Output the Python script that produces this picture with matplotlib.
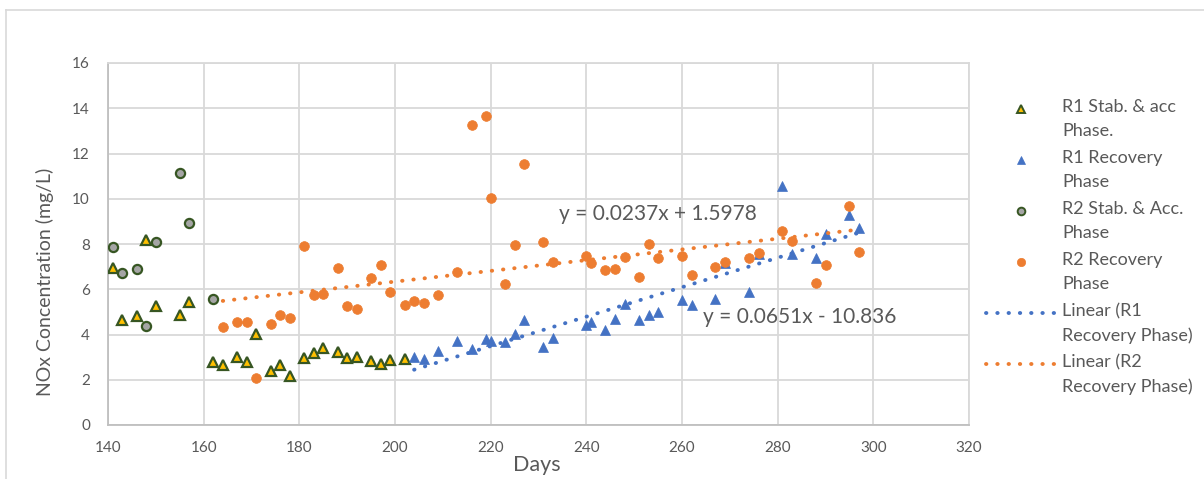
import numpy as np
import matplotlib
matplotlib.use("Agg")
import matplotlib.pyplot as plt
from matplotlib.lines import Line2D

plt.rcParams['font.family'] = ['Lato', 'DejaVu Sans']

# R1 stabilisation & acclimation phase
r1_stab_days = [141, 143, 146, 148, 150, 155, 157, 162, 164, 167, 169, 171, 174,
                176, 178, 181, 183, 185, 188, 190, 192, 195, 197, 199, 202]
r1_stab_nox = [6.95, 4.62, 4.81, 8.19, 5.24, 4.85, 5.44, 2.79, 2.65, 3.00, 2.80, 4.04, 2.40,
               2.65, 2.18, 2.95, 3.20, 3.42, 3.23, 2.94, 3.02, 2.85, 2.71, 2.86, 2.92]

# R1 recovery phase
r1_rec_days = [204, 206, 209, 213, 216, 219, 220, 223, 225, 227, 231, 233, 240, 241, 244, 246,
               248, 251, 253, 255, 260, 262, 267, 269, 274, 276, 281, 283, 288, 290, 295, 297]
r1_rec_nox = [3.02, 2.92, 3.27, 3.73, 3.38, 3.80, 3.72, 3.66, 4.03, 4.65, 3.44, 3.84, 4.42, 4.57,
              4.20, 4.68, 5.34, 4.62, 4.88, 5.01, 5.52, 5.32, 5.56, 7.15, 5.90, 7.55, 10.55, 7.57,
              7.40, 8.45, 9.29, 8.70]

# R2 stabilisation & acclimation phase
r2_stab_days = [141, 143, 146, 148, 150, 155, 157, 162]
r2_stab_nox = [7.85, 6.74, 6.89, 4.37, 8.10, 11.12, 8.95, 5.57]

# R2 recovery phase
r2_rec_days = [164, 167, 169, 171, 174, 176, 178, 181, 183, 185, 188, 190, 192, 195, 197, 199,
               202, 204, 206, 209, 213, 216, 219, 220, 223, 225, 227, 231, 233, 240, 241, 244,
               246, 248, 251, 253, 255, 260, 262, 267, 269, 274, 276, 281, 283, 288, 290, 295, 297]
r2_rec_nox = [4.35, 4.56, 4.56, 2.06, 4.45, 4.84, 4.75, 7.89, 5.75, 5.81, 6.96, 5.24, 5.12, 6.50,
              7.08, 5.86, 5.32, 5.49, 5.40, 5.75, 6.78, 13.24, 13.64, 10.05, 6.25, 7.95, 11.53,
              8.07, 7.20, 7.45, 7.15, 6.84, 6.89, 7.42, 6.55, 7.98, 7.40, 7.48, 6.62, 6.99, 7.20,
              7.39, 7.61, 8.58, 8.13, 6.28, 7.05, 9.69, 7.63]

# linear trendline coefficients (slope, intercept)
r1_fit = (0.0651, -10.836)
r2_fit = (0.0237, 1.5978)

xticks = list(range(140, 321, 20))
yticks = list(range(0, 17, 2))

txt = '#595959'
blue = '#4472C4'
orange = '#ED7D31'
dkgreen = '#375623'
yellow = '#FFC000'
grey = '#A5A5A5'
grid = '#D9D9D9'

W, H = 1204, 479
fig = plt.figure(figsize=(W / 100, H / 100), dpi=100)


def fx(x):
    return x / W


def fy(y):
    return 1 - y / H


# outer chart border
fig.add_artist(Line2D([fx(6), 1], [fy(10), fy(10)], color=grid, lw=1.2, transform=fig.transFigure))
fig.add_artist(Line2D([fx(6), fx(6)], [0, fy(10)], color=grid, lw=1.2, transform=fig.transFigure))

ax = fig.add_axes([fx(108), fy(425), fx(969) - fx(108), fy(63) - fy(425)])

ax.grid(True, color=grid, lw=1.3)
ax.set_axisbelow(True)
for s in ['top', 'right']:
    ax.spines[s].set_color(grid)
    ax.spines[s].set_linewidth(1.3)
for s in ['left', 'bottom']:
    ax.spines[s].set_color('#BFBFBF')
    ax.spines[s].set_linewidth(1.3)

ax.set_xlim(140, 320)
ax.set_ylim(0, 16)
ax.set_xticks(xticks)
ax.set_yticks(yticks)
ax.tick_params(length=0, labelsize=11, labelcolor=txt)
ax.tick_params(axis='x', pad=11.5)
ax.tick_params(axis='y', pad=13)

dot = (0, (0.1, 2.8))
tlw = 2.8

ax.plot(r1_stab_days, r1_stab_nox, ls='none', marker='^', ms=7.5, mfc=yellow, mec=dkgreen, mew=1.6, zorder=3)
ax.plot(r1_rec_days, r1_rec_nox, ls='none', marker='^', ms=7.2, mfc=blue, mec=blue, mew=0.5, zorder=3)
ax.plot(r2_stab_days, r2_stab_nox, ls='none', marker='o', ms=6.6, mfc=grey, mec=dkgreen, mew=1.6, zorder=3)
ax.plot(r2_rec_days, r2_rec_nox, ls='none', marker='o', ms=7.0, mfc=orange, mec=orange, mew=0.5, zorder=3)

# trendlines over each recovery phase range
x1 = np.array([min(r1_rec_days), max(r1_rec_days)])
ax.plot(x1, r1_fit[0] * x1 + r1_fit[1], color=blue, lw=tlw, ls=dot, dash_capstyle='round', zorder=4)
x2 = np.array([min(r2_rec_days), max(r2_rec_days)])
ax.plot(x2, r2_fit[0] * x2 + r2_fit[1], color=orange, lw=tlw, ls=dot, dash_capstyle='round', zorder=4)

ax.text(234.3, 9.34, 'y = 0.0237x + 1.5978', fontsize=15, color=txt, va='center', ha='left')
ax.text(264.3, 4.79, 'y = 0.0651x - 10.836', fontsize=15, color=txt, va='center', ha='left')

fig.text(fx(537), fy(465), 'Days', fontsize=15.5, color=txt, ha='center', va='center')
fig.text(fx(45), fy(282), 'NOx Concentration (mg/L)', fontsize=14, color=txt,
         ha='center', va='center', rotation=90)

# legend, drawn in figure pixels
legend_rows = [
    ('R1 Stab. & acc\nPhase.', dict(marker='^', ms=6, mfc=yellow, mec=dkgreen, mew=1.4), 109),
    ('R1 Recovery\nPhase', dict(marker='^', ms=6, mfc=blue, mec=blue, mew=0.5), 160),
    ('R2 Stab. & Acc.\nPhase', dict(marker='o', ms=5.5, mfc=grey, mec=dkgreen, mew=1.4), 211),
    ('R2 Recovery\nPhase', dict(marker='o', ms=6, mfc=orange, mec=orange, mew=0.5), 262),
    ('Linear (R1\nRecovery Phase)', dict(color=blue), 313),
    ('Linear (R2\nRecovery Phase)', dict(color=orange), 364),
]
for label, style, yy in legend_rows:
    if 'marker' in style:
        fig.add_artist(Line2D([fx(1021)], [fy(yy)], ls='none', transform=fig.transFigure, **style))
    else:
        fig.add_artist(Line2D([fx(986), fx(1055)], [fy(yy), fy(yy)], lw=tlw, ls=dot,
                              dash_capstyle='round', transform=fig.transFigure, **style))
    fig.text(fx(1062), fy(yy - 10), label, fontsize=13, color=txt, ha='left', va='top',
             linespacing=1.62)

fig.savefig('out.png', dpi=100)
